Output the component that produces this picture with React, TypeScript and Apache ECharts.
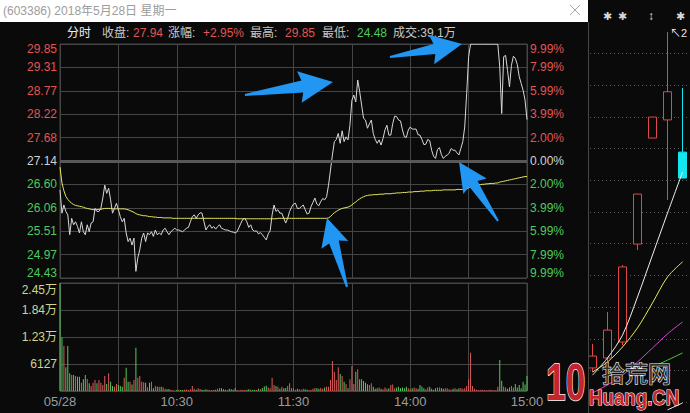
import React, { useEffect, useRef } from 'react';
import * as echarts from 'echarts';

const FONT = "'Liberation Sans', 'Noto Sans CJK SC', sans-serif";
const RED = '#e25555';
const GREEN = '#4fc95f';
const VOLTXT = '#d4d48e';

const prevClose = 27.14;
const priceMin = 24.426;
const priceMax = 29.854;
const priceStep = 0.5428;
// tick labels, bottom to top
const priceTickLabels = ['24.43', '24.97', '25.51', '26.06', '26.60', '27.14', '27.68', '28.22', '28.77', '29.31', '29.85'];
const pctTickLabels = ['9.99%', '7.99%', '5.99%', '3.99%', '2.00%', '0.00%', '2.00%', '3.99%', '5.99%', '7.99%', '9.99%'];
const volMax = 24510;
const volStep = 6127.5;
const volTickLabels = ['', '6127', '1.23万', '1.84万', '2.45万'];
const timeTickIndex = [0, 60, 120, 180, 240];
const timeTickLabels = ['05/28', '10:30', '11:30', '14:00', '15:00'];

// minute categories 09:30-11:30, 13:01-15:00
const minutes: string[] = [];
for (let i = 0; i <= 240; i++) {
  const m = i <= 120 ? 9 * 60 + 30 + i : 13 * 60 + (i - 120);
  minutes.push(String(Math.floor(m / 60)).padStart(2, '0') + ':' + String(m % 60).padStart(2, '0'));
}

const price = [
  26.47, 25.93, 26.12, 25.97, 25.89, 25.43, 25.81, 25.66, 25.73, 25.62,
  25.47, 25.73, 25.50, 25.43, 25.66, 25.50, 25.70, 25.73, 26.04, 25.97,
  25.97, 26.04, 26.28, 26.58, 26.39, 26.51, 26.24, 25.93, 26.04, 26.16,
  26.01, 25.85, 25.73, 25.81, 25.47, 25.27, 25.35, 25.19, 25.35, 24.58,
  24.90, 25.08, 25.35, 25.47, 25.27, 25.47, 25.43, 25.50, 25.39, 25.54,
  25.43, 25.47, 25.43, 25.54, 25.58, 25.50, 25.43, 25.50, 25.54, 25.58,
  25.54, 25.54, 25.52, 25.50, 25.54, 25.58, 25.60, 25.73, 25.85, 25.89,
  25.81, 25.89, 25.94, 25.93, 25.73, 25.54, 25.62, 25.66, 25.58, 25.62,
  25.56, 25.62, 25.66, 25.58, 25.56, 25.54, 25.54, 25.52, 25.50, 25.49,
  25.47, 25.50, 25.60, 25.70, 25.79, 25.81, 25.73, 25.60, 25.66, 25.54,
  25.51, 25.52, 25.45, 25.48, 25.43, 25.37, 25.31, 25.45, 25.52, 25.89,
  26.12, 25.97, 26.01, 25.93, 25.93, 25.81, 25.70, 25.81, 25.97, 26.07,
  26.14, 26.16, 26.04, 26.04, 26.08, 26.12, 26.01, 25.91, 25.93, 26.08,
  26.18, 26.28, 26.14, 26.10, 26.20, 26.27, 26.24, 26.31, 26.58, 26.93,
  27.28, 27.59, 27.64, 27.78, 27.55, 27.84, 27.59, 27.70, 27.63, 27.97,
  28.55, 28.67, 28.51, 29.02, 28.75, 28.44, 28.13, 28.09, 27.90, 28.00,
  28.09, 27.78, 27.64, 27.55, 27.63, 27.51, 27.66, 27.86, 27.97, 27.74,
  27.74, 28.01, 28.18, 28.17, 28.09, 28.07, 27.86, 27.70, 27.69, 27.86,
  27.93, 27.88, 27.88, 27.88, 27.75, 27.74, 27.64, 27.52, 27.53, 27.64,
  27.61, 27.39, 27.25, 27.20, 27.41, 27.45, 27.29, 27.20, 27.25, 27.28,
  27.32, 27.43, 27.39, 27.39, 27.33, 27.28, 27.43, 27.59, 27.93, 28.71,
  29.56, 29.85, 29.85, 29.85, 29.85, 29.85, 29.85, 29.85, 29.85, 29.85,
  29.85, 29.85, 29.85, 29.85, 29.85, 29.85, 29.32, 28.24, 29.56, 29.59,
  29.24, 28.86, 29.36, 29.57, 29.52, 29.38, 29.10, 28.94, 28.78, 28.55,
  28.10,
];

const avgPrice = [
  27.00, 26.63, 26.45, 26.32, 26.25, 26.20, 26.16, 26.13, 26.11, 26.10,
  26.09, 26.08, 26.07, 26.05, 26.04, 26.03, 26.02, 26.01, 26.01, 26.01,
  26.02, 26.02, 26.03, 26.04, 26.04, 26.04, 26.04, 26.03, 26.03, 26.03,
  26.03, 26.03, 26.03, 26.03, 26.02, 26.01, 25.99, 25.97, 25.95, 25.92,
  25.90, 25.89, 25.88, 25.87, 25.87, 25.86, 25.85, 25.85, 25.84, 25.84,
  25.83, 25.83, 25.83, 25.82, 25.82, 25.82, 25.82, 25.82, 25.81, 25.81,
  25.81, 25.81, 25.81, 25.81, 25.81, 25.81, 25.81, 25.81, 25.81, 25.81,
  25.81, 25.81, 25.81, 25.81, 25.81, 25.81, 25.81, 25.81, 25.81, 25.81,
  25.81, 25.81, 25.81, 25.81, 25.81, 25.81, 25.81, 25.81, 25.81, 25.81,
  25.81, 25.80, 25.80, 25.80, 25.80, 25.80, 25.80, 25.80, 25.80, 25.80,
  25.80, 25.80, 25.80, 25.80, 25.80, 25.80, 25.80, 25.80, 25.80, 25.80,
  25.80, 25.80, 25.81, 25.81, 25.81, 25.81, 25.81, 25.81, 25.81, 25.81,
  25.81, 25.81, 25.81, 25.81, 25.81, 25.81, 25.81, 25.81, 25.81, 25.81,
  25.81, 25.81, 25.81, 25.81, 25.81, 25.81, 25.81, 25.81, 25.82, 25.85,
  25.90, 25.94, 25.97, 26.00, 26.02, 26.04, 26.05, 26.06, 26.07, 26.09,
  26.12, 26.16, 26.19, 26.23, 26.26, 26.29, 26.31, 26.33, 26.34, 26.35,
  26.35, 26.36, 26.36, 26.36, 26.37, 26.37, 26.37, 26.38, 26.38, 26.38,
  26.38, 26.39, 26.39, 26.40, 26.40, 26.40, 26.41, 26.41, 26.41, 26.42,
  26.42, 26.42, 26.43, 26.43, 26.43, 26.44, 26.44, 26.44, 26.45, 26.45,
  26.45, 26.45, 26.46, 26.46, 26.46, 26.46, 26.46, 26.47, 26.47, 26.47,
  26.47, 26.47, 26.47, 26.47, 26.48, 26.48, 26.48, 26.48, 26.48, 26.49,
  26.52, 26.55, 26.57, 26.58, 26.58, 26.59, 26.59, 26.60, 26.60, 26.61,
  26.61, 26.62, 26.62, 26.62, 26.63, 26.63, 26.65, 26.66, 26.67, 26.68,
  26.69, 26.70, 26.71, 26.72, 26.73, 26.74, 26.75, 26.76, 26.77, 26.78,
  26.78,
];

const volume = [
  24500, 12170, 10200, 5370, 10200, 4000, 3630, 3630, 3400, 3250,
  3250, 1890, 2650, 3630, 2720, 1740, 1130, 1890, 2500, 1740,
  2500, 1890, 1360, 3400, 1590, 4000, 2120, 1130, 980, 1590,
  1360, 1130, 980, 3020, 5290, 2120, 2120, 1500, 2500, 9830,
  3020, 3400, 2120, 1970, 1890, 830, 1890, 2120, 600, 1130,
  980, 980, 980, 830, 530, 380, 450, 230, 150, 80,
  200, 300, 250, 200, 300, 350, 200, 400, 1130, 500,
  300, 600, 450, 300, 250, 400, 300, 200, 150, 250,
  300, 500, 700, 600, 400, 300, 200, 500, 400, 300,
  600, 200, 150, 300, 250, 200, 300, 400, 350, 250,
  300, 200, 500, 400, 700, 1000, 1200, 800, 600, 3020,
  1360, 1130, 980, 500, 980, 600, 700, 1130, 1740, 700,
  600, 300, 500, 400, 300, 500, 400, 300, 200, 300,
  500, 700, 600, 500, 700, 500, 800, 980, 980, 2500,
  6800, 4380, 2500, 5370, 3860, 3400, 2120, 1590, 600, 2650,
  5670, 1590, 4380, 4910, 2650, 2650, 2270, 1890, 1510, 1360,
  1740, 980, 500, 600, 800, 500, 400, 800, 500, 600,
  1360, 1500, 600, 800, 980, 600, 800, 600, 980, 600,
  400, 600, 800, 600, 500, 1360, 1000, 600, 400, 800,
  980, 500, 300, 600, 800, 800, 700, 500, 600, 600,
  400, 300, 500, 600, 400, 600, 700, 500, 600, 1130,
  2650, 8690, 1130, 500, 300, 200, 200, 300, 200, 150,
  200, 300, 200, 150, 200, 980, 7030, 2340, 1000, 800,
  500, 800, 1130, 800, 1590, 800, 1360, 600, 2120, 1500,
  3400,
];

// daily K panel
const kDates = ['05/21', '05/22', '05/23', '05/24', '05/25', '05/28', '05/29'];
// open, close, low, high
const kOHLC = [
  [19.11, 19.49, 18.98, 19.88],
  [19.43, 20.32, 19.30, 20.90],
  [19.94, 22.34, 19.84, 22.40],
  [23.07, 24.67, 22.88, 24.67],
  [26.46, 27.13, 26.46, 27.13],
  [27.04, 27.94, 24.48, 29.85],
  [26.01, 25.18, 25.18, 28.06],
];
const ma5 = [18.88, 19.43, 20.16, 21.38, 22.72, 24.06, 25.37];
const ma10 = [18.98, 19.30, 19.78, 20.39, 21.19, 22.02, 22.50];
const ma20 = [18.31, 18.57, 18.88, 19.30, 19.75, 20.20, 20.58];
const ma30 = [null, null, null, null, 19.14, 19.36, 19.59];
const ma60 = [null, null, null, null, null, 17.77, 17.99];

function arrowPoints(tx: number, ty: number, hx: number, hy: number, headLen: number, headHalf: number, shaftHalf: number) {
  const dx = hx - tx, dy = hy - ty;
  const L = Math.hypot(dx, dy);
  const ux = dx / L, uy = dy / L;
  const nx = -uy, ny = ux;
  const bx = hx - ux * headLen, by = hy - uy * headLen;
  return [
    [tx + nx * 1, ty + ny * 1],
    [bx + nx * shaftHalf, by + ny * shaftHalf],
    [bx + nx * headHalf - ux * 3, by + ny * headHalf - uy * 3],
    [hx, hy],
    [bx - nx * headHalf - ux * 3, by - ny * headHalf - uy * 3],
    [bx - nx * shaftHalf, by - ny * shaftHalf],
    [tx - nx * 1, ty - ny * 1],
  ];
}

function txt(x: number, y: number, text: string, fill: string, size = 12, extra: any = {}) {
  return {
    type: 'text', x, y, z: 100,
    style: { text, fill, font: `${size}px ${FONT}`, verticalAlign: 'middle', align: 'left', ...extra },
  };
}

function buildOption(): any {
  const volData = volume.map((v, i) => {
    const prev = i === 0 ? prevClose : price[i - 1];
    const up = price[i] >= prev;
    return { value: v, itemStyle: { color: up ? '#dd5c5c' : '#58c85e' } };
  });

  const blue = '#2196f3';
  const arrows = [
    arrowPoints(245, 95, 333, 82, 31, 16, 6),
    arrowPoints(390, 57, 462, 44, 28, 15, 5),
    arrowPoints(347, 287, 327, 218, 25, 14, 5),
    arrowPoints(498, 221, 459, 162, 26, 14, 5),
  ].map((pts) => ({ type: 'polygon', z: 120, shape: { points: pts }, style: { fill: blue } }));

  const priceLabel = (v: number) => {
    const i = Math.round((v - priceMin) / priceStep);
    const s = priceTickLabels[i] ?? '';
    const k = i === 10 ? 'rt' : i === 0 ? 'gb' : i > 5 ? 'r' : i === 5 ? 'w' : 'g';
    return `{${k}|${s}}`;
  };
  const pctLabel = (v: number) => {
    const i = Math.round((v - priceMin) / priceStep);
    const s = pctTickLabels[i] ?? '';
    const k = i === 10 ? 'rt' : i === 0 ? 'gb' : i > 5 ? 'r' : i === 5 ? 'w' : 'g';
    return `{${k}|${s}}`;
  };
  const base = { fontSize: 12, fontFamily: FONT };
  const richPrice = {
    r: { ...base, color: RED },
    rt: { ...base, color: RED, padding: [10, 0, 0, 0] },
    w: { ...base, color: '#d2d2d2' },
    g: { ...base, color: GREEN },
    gb: { ...base, color: GREEN, padding: [0, 0, 10, 0] },
  };

  const gridLine = '#454545';

  return {
    animation: false,
    backgroundColor: '#0a0a0a',
    grid: [
      { left: 60, top: 44, width: 467, height: 234, show: true, borderColor: gridLine, borderWidth: 1, backgroundColor: 'transparent' },
      { left: 60, top: 283, width: 467, height: 108, show: true, borderColor: gridLine, borderWidth: 1, backgroundColor: 'transparent' },
      { left: 585, top: 20, right: 0, height: 393 },
      { left: 590, top: 53.5, right: 0, height: 348.7 },
    ],
    xAxis: [
      {
        type: 'category', gridIndex: 0, data: minutes, boundaryGap: false,
        axisLine: { show: false }, axisTick: { show: false }, axisLabel: { show: false },
        splitLine: { show: true, interval: (i: number) => i % 30 === 0, lineStyle: { color: gridLine, width: 1 } },
      },
      {
        type: 'category', gridIndex: 1, data: minutes, boundaryGap: false,
        axisLine: { show: false }, axisTick: { show: false },
        axisLabel: {
          show: true, interval: (i: number) => timeTickIndex.includes(i), showMinLabel: true, showMaxLabel: true,
          formatter: (_v: string, i: number) => {
            const k = timeTickIndex.indexOf(i);
            return k >= 0 ? timeTickLabels[k] : '';
          },
          color: '#9c9c9c', fontSize: 13, fontFamily: FONT, margin: 4,
        },
        splitLine: { show: true, interval: (i: number) => i % 30 === 0, lineStyle: { color: gridLine, width: 1 } },
      },
      { type: 'category', gridIndex: 2, data: kDates, boundaryGap: true, show: false },
      { type: 'value', gridIndex: 3, min: 0, max: 1, show: false },
    ],
    yAxis: [
      {
        type: 'value', gridIndex: 0, min: priceMin, max: priceMax, interval: priceStep, position: 'left',
        axisLine: { show: false }, axisTick: { show: false },
        axisLabel: { formatter: priceLabel, rich: richPrice, margin: 3 },
        splitLine: { show: true, lineStyle: { color: gridLine, width: 1 } },
      },
      {
        type: 'value', gridIndex: 0, min: priceMin, max: priceMax, interval: priceStep, position: 'right',
        axisLine: { show: false }, axisTick: { show: false },
        axisLabel: { formatter: pctLabel, rich: richPrice, margin: 3 },
        splitLine: { show: false },
      },
      {
        type: 'value', gridIndex: 1, min: 0, max: volMax, interval: volStep, position: 'left',
        axisLine: { show: false }, axisTick: { show: false },
        axisLabel: {
          formatter: (v: number) => {
            const i = Math.round(v / volStep);
            const s = volTickLabels[i] ?? '';
            return s ? (i === 4 ? `{t|${s}}` : `{n|${s}}`) : '';
          },
          rich: {
            n: { ...base, color: VOLTXT },
            t: { ...base, color: VOLTXT, padding: [14, 0, 0, 0] },
          },
          margin: 3,
        },
        splitLine: { show: true, lineStyle: { color: gridLine, width: 1 } },
      },
      { type: 'value', gridIndex: 2, min: 17.67, max: 30.234, show: false },
      {
        type: 'value', gridIndex: 3, min: 0, max: 11, interval: 1,
        axisLine: { show: false }, axisTick: { show: false }, axisLabel: { show: false },
        splitLine: { show: true, lineStyle: { color: '#5c5c5c', type: [1, 3], width: 1 } },
      },
    ],
    series: [
      {
        name: '均价', type: 'line', xAxisIndex: 0, yAxisIndex: 0, data: avgPrice, showSymbol: false, z: 2,
        lineStyle: { color: '#e6e65e', width: 1 },
        markLine: {
          silent: true, symbol: 'none', label: { show: false },
          lineStyle: { color: '#585858', width: 3, type: 'solid' },
          data: [{ yAxis: prevClose }],
        },
      },
      {
        name: '价格', type: 'line', xAxisIndex: 0, yAxisIndex: 0, data: price, showSymbol: false, z: 3,
        lineStyle: { color: '#d8d8d8', width: 1 },
      },
      {
        name: '成交量', type: 'bar', xAxisIndex: 1, yAxisIndex: 2, data: volData, barWidth: 1,
      },
      {
        name: 'K', type: 'candlestick', xAxisIndex: 2, yAxisIndex: 3, data: kOHLC, barWidth: 9,
        itemStyle: { color: '#0a0a0a', color0: '#14e6f0', borderColor: '#e04848', borderColor0: '#14e6f0', borderWidth: 1 },
      },
      { name: 'MA5', type: 'line', xAxisIndex: 2, yAxisIndex: 3, data: ma5, showSymbol: false, smooth: 0.3, lineStyle: { color: '#f0f0f0', width: 1 } },
      { name: 'MA10', type: 'line', xAxisIndex: 2, yAxisIndex: 3, data: ma10, showSymbol: false, smooth: 0.3, lineStyle: { color: '#e8e85a', width: 1 } },
      { name: 'MA20', type: 'line', xAxisIndex: 2, yAxisIndex: 3, data: ma20, showSymbol: false, smooth: 0.3, lineStyle: { color: '#e040e0', width: 1 } },
      { name: 'MA30', type: 'line', xAxisIndex: 2, yAxisIndex: 3, data: ma30, showSymbol: false, smooth: 0.3, lineStyle: { color: '#40d040', width: 1 } },
      { name: 'MA60', type: 'line', xAxisIndex: 2, yAxisIndex: 3, data: ma60, showSymbol: false, smooth: 0.3, lineStyle: { color: '#f0f0f0', width: 1 } },
    ],
    graphic: [
      { type: 'rect', z: 90, shape: { x: 0, y: 0, width: 588, height: 22 }, style: { fill: '#ffffff' } },
      txt(3, 11, '(603386) 2018年5月28日 星期一', '#9c9c9c', 12),
      { type: 'line', z: 100, shape: { x1: 570, y1: 5, x2: 580, y2: 15 }, style: { stroke: '#a8a8a8', lineWidth: 1 } },
      { type: 'line', z: 100, shape: { x1: 580, y1: 5, x2: 570, y2: 15 }, style: { stroke: '#a8a8a8', lineWidth: 1 } },
      { type: 'line', z: 100, shape: { x1: 588.5, y1: 22, x2: 588.5, y2: 413 }, style: { stroke: '#464646', lineWidth: 1 } },
      txt(67, 33, '分时', '#eeeeee', 12),
      txt(102, 33, '收盘:', '#c8c8c8', 12),
      txt(133, 33, '27.94', RED, 12),
      txt(168, 33, '涨幅:', '#c8c8c8', 12),
      txt(203, 33, '+2.95%', RED, 12),
      txt(250, 33, '最高:', '#c8c8c8', 12),
      txt(285, 33, '29.85', RED, 12),
      txt(322, 33, '最低:', '#c8c8c8', 12),
      txt(357, 33, '24.48', GREEN, 12),
      txt(393, 33, '成交:39.1万', '#c8c8c8', 12),
      txt(603, 16, '✱', '#d8d8d8', 11),
      txt(618, 16, '✱', '#d8d8d8', 11),
      txt(648, 16, '↕', '#d8d8d8', 11, { fontWeight: 'bold' }),
      txt(676, 16, '✱', '#d8d8d8', 11),
      txt(670, 33, '↖2', '#e8e8e8', 11),
      ...arrows,
      {
        type: 'text', x: 546, y: 382, z: 110, scaleX: 0.68,
        style: { text: '10', fill: '#c4252d', stroke: '#ffffff', lineWidth: 1.5, font: `bold 52px ${FONT}`, verticalAlign: 'middle', align: 'left' },
      },
      {
        type: 'text', x: 602, y: 372, z: 110,
        style: { text: '拾荒网', fill: '#2e2e2e', stroke: '#eeeeee', lineWidth: 1.2, font: `23px 'Noto Sans CJK SC', sans-serif`, verticalAlign: 'middle', align: 'left' },
      },
      {
        type: 'text', x: 589, y: 397, z: 110, scaleX: 0.85,
        style: { text: 'Huang.CN', fill: '#c4252d', stroke: '#ffffff', lineWidth: 1.2, font: `bold 22px ${FONT}`, verticalAlign: 'middle', align: 'left' },
      },
    ],
  };
}

export default function App() {
  const ref = useRef<HTMLDivElement>(null);
  useEffect(() => {
    if (!ref.current) return;
    const chart = echarts.init(ref.current, null, { renderer: 'svg' });
    chart.setOption(buildOption());
    return () => chart.dispose();
  }, []);
  return (
    <div
      ref={ref}
      style={{ position: 'fixed', left: 0, top: 0, width: 690, height: 413, background: '#0a0a0a' }}
    />
  );
}
